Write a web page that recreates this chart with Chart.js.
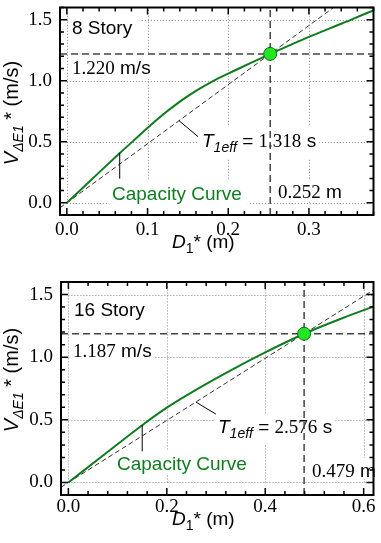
<!DOCTYPE html>
<html><head><meta charset="utf-8">
<script src="https://cdn.jsdelivr.net/npm/chart.js@4.4.1/dist/chart.umd.min.js"></script>
<style>
html,body{margin:0;padding:0;background:#fff;width:381px;height:543px;overflow:hidden}
.wrap{position:absolute;left:0;width:381px}
canvas{display:block}
</style></head><body>
<div class="wrap" style="top:0;height:270px"><canvas id="c1" width="381" height="270"></canvas></div>
<div class="wrap" style="top:270px;height:273px"><canvas id="c2" width="381" height="273"></canvas></div>
<script>
// ---------- DATA ----------
const story8Disp = [0, 0.03, 0.065, 0.09, 0.11, 0.14, 0.16, 0.18, 0.2, 0.21, 0.23, 0.252, 0.28, 0.3, 0.34, 0.38, 0.39];
const story8Vel  = [0, 0.187, 0.403, 0.553, 0.673, 0.829, 0.917, 0.993, 1.059, 1.090, 1.152, 1.220, 1.302, 1.359, 1.467, 1.575, 1.60];
const story8Perf = [0.252, 1.220];
const story8Period = "1.318";
const story8XTicks = [0, 0.1, 0.2, 0.3];
const story8YTicks = [0, 0.5, 1.0, 1.5];

const story16Disp = [0, 0.075, 0.15, 0.2, 0.26, 0.33, 0.4, 0.479, 0.55, 0.62, 0.64];
const story16Vel  = [0, 0.229, 0.457, 0.597, 0.741, 0.895, 1.038, 1.187, 1.301, 1.403, 1.43];
const story16Perf = [0.479, 1.187];
const story16Period = "2.576";
const story16XTicks = [0, 0.2, 0.4, 0.6];
const story16YTicks = [0, 0.5, 1.0, 1.5];

// ---------- STYLE ----------
const SANS = '"Liberation Sans", Arial, sans-serif';
const SERIF = '"Liberation Serif", "Times New Roman", serif';
const GREEN = '#0f7d1f';

function drawRich(ctx, x, y, segs) {
  let cx = x;
  segs.forEach(s => {
    ctx.font = s.f;
    ctx.fillStyle = s.c || '#000';
    ctx.fillText(s.t, cx, y + (s.dy || 0));
    cx += ctx.measureText(s.t).width;
  });
  return cx - x;
}
function richWidth(ctx, segs) {
  let w = 0;
  segs.forEach(s => { ctx.font = s.f; w += ctx.measureText(s.t).width; });
  return w;
}

function buildChart(id, spec) {
  const pts = spec.disp.map((x, i) => ({x, y: spec.vel[i]}));
  const slope = spec.perf[1] / spec.perf[0];
  const secant = [spec.xMin, spec.xMax * 1.2].map(x => ({x, y: x * slope}));
  const hline = [{x: spec.xMin, y: spec.perf[1]}, {x: spec.xMax, y: spec.perf[1]}];
  const vline = [{x: spec.perf[0], y: spec.yMin}, {x: spec.perf[0], y: spec.yMax}];

  const deco = {
    id: 'deco',
    beforeDatasetsDraw(chart) {
      const {ctx, chartArea: a, scales: {x, y}} = chart;
      ctx.save();
      ctx.strokeStyle = '#8a8a8a'; ctx.lineWidth = 1; ctx.setLineDash([1, 2]);
      const x0 = x.getPixelForValue(0), y0 = y.getPixelForValue(0);
      spec.xTicks.forEach(v => {
        const px = Math.round(x.getPixelForValue(v)) + 0.5;
        ctx.beginPath(); ctx.moveTo(px, y0); ctx.lineTo(px, a.top); ctx.stroke();
      });
      spec.yTicks.forEach(v => {
        const py = Math.round(y.getPixelForValue(v)) + 0.5;
        ctx.beginPath(); ctx.moveTo(x0, py); ctx.lineTo(a.right, py); ctx.stroke();
      });
      ctx.setLineDash([]);
      ctx.textBaseline = 'alphabetic';
      spec.labels.forEach(l => {
        const w = richWidth(ctx, l.segs);
        ctx.fillStyle = '#fff';
        ctx.fillRect(l.x - 3, l.y - l.up, w + 3 + (l.padR || 3), l.up + l.down);
        drawRich(ctx, l.x, l.y, l.segs);
      });
      ctx.restore();
    },
    afterDatasetsDraw(chart) {
      const {ctx, scales: {x, y}} = chart;
      ctx.save();
      ctx.strokeStyle = '#000'; ctx.lineWidth = 1;
      spec.leaders.forEach(L => {
        const px = x.getPixelForValue(L.ax), py = y.getPixelForValue(L.ay);
        ctx.beginPath(); ctx.moveTo(px, py); ctx.lineTo(px + L.dx, py + L.dy); ctx.stroke();
      });
      ctx.restore();
    },
    afterDraw(chart) {
      const {ctx, chartArea: a, scales: {x, y}} = chart;
      ctx.save();
      ctx.strokeStyle = '#000';
      ctx.lineWidth = 1.5;
      const near = (v, st) => Math.abs(v / st - Math.round(v / st)) < 1e-6;
      for (let k = Math.ceil(spec.xMin / spec.xMinor - 1e-9); k * spec.xMinor <= spec.xMax + 1e-9; k++) {
        const v = k * spec.xMinor;
        const L = near(v, spec.xMajor) ? 7 : 4;
        const px = x.getPixelForValue(v);
        ctx.beginPath(); ctx.moveTo(px, a.bottom); ctx.lineTo(px, a.bottom - L);
        ctx.moveTo(px, a.top); ctx.lineTo(px, a.top + L); ctx.stroke();
      }
      for (let k = Math.ceil(spec.yMin / spec.yMinor - 1e-9); k * spec.yMinor <= spec.yMax + 1e-9; k++) {
        const v = k * spec.yMinor;
        const L = near(v, spec.yMajor) ? 7 : 4;
        const py = y.getPixelForValue(v);
        ctx.beginPath(); ctx.moveTo(a.left, py); ctx.lineTo(a.left + L, py);
        ctx.moveTo(a.right, py); ctx.lineTo(a.right - L, py); ctx.stroke();
      }
      ctx.lineWidth = 2;
      ctx.strokeRect(a.left, a.top, a.right - a.left, a.bottom - a.top);
      // axis titles
      ctx.textBaseline = 'alphabetic';
      const xt = [
        {t: 'D', f: 'italic 19px ' + SANS},
        {t: '1', f: '14px ' + SANS, dy: 5},
        {t: '*', f: '19px ' + SANS},
        {t: ' (m)', f: '19px ' + SANS}
      ];
      drawRich(ctx, spec.xTitle[0], spec.xTitle[1], xt);
      const yt = [
        {t: 'V', f: 'italic 20px ' + SANS},
        {t: 'ΔE1', f: 'italic 14px ' + SANS, dy: 5},
        {t: ' *', f: '20px ' + SANS},
        {t: ' (m/s)', f: '20px ' + SANS}
      ];
      const w = richWidth(ctx, yt);
      ctx.translate(spec.yTitle[0], spec.yTitle[1]);
      ctx.rotate(-Math.PI / 2);
      drawRich(ctx, -w / 2, 0, yt);
      ctx.restore();
    }
  };

  return new Chart(document.getElementById(id), {
    type: 'scatter',
    data: {
      datasets: [
        {data: [{x: spec.perf[0], y: spec.perf[1]}], pointRadius: 6.5, pointBackgroundColor: '#22e622',
         pointBorderColor: '#0b6e12', pointBorderWidth: 1, showLine: false},
        {data: pts, showLine: true, borderColor: GREEN, borderWidth: 2, pointRadius: 0, cubicInterpolationMode: 'monotone'},
        {data: secant, showLine: true, borderColor: '#333', borderWidth: 1, borderDash: [5, 3], pointRadius: 0},
        {data: hline, showLine: true, borderColor: '#444', borderWidth: 1.5, borderDash: [7, 4], pointRadius: 0},
        {data: vline, showLine: true, borderColor: '#444', borderWidth: 1.5, borderDash: [7, 4], pointRadius: 0}
      ]
    },
    options: {
      responsive: false, animation: false, events: [],
      layout: {padding: {top: spec.padTop, right: 2, left: 0, bottom: 0}},
      plugins: {legend: {display: false}, tooltip: {enabled: false}},
      scales: {
        x: {
          type: 'linear', min: spec.xMin, max: spec.xMax,
          afterBuildTicks: s => { s.ticks = spec.xTicks.map(v => ({value: v})); },
          afterFit: s => { s.height = spec.xAxisH; s.paddingLeft = 0; s.paddingRight = 0; },
          ticks: {font: {family: SERIF, size: 19}, color: '#000', padding: spec.xTickPad, autoSkip: false, maxRotation: 0,
                  callback: v => Number(v).toFixed(1)},
          grid: {display: false, drawTicks: false}, border: {display: false}
        },
        y: {
          type: 'linear', min: spec.yMin, max: spec.yMax,
          afterBuildTicks: s => { s.ticks = spec.yTicks.map(v => ({value: v})); },
          afterFit: s => { s.width = spec.yAxisW; s.paddingTop = 0; s.paddingBottom = 0; },
          ticks: {font: {family: SERIF, size: 19}, color: '#000', padding: 8, autoSkip: false,
                  callback: v => Number(v).toFixed(1)},
          grid: {display: false, drawTicks: false}, border: {display: false}
        }
      }
    },
    plugins: [deco]
  });
}

const T_SEGS = (p) => [
  {t: 'T', f: 'italic 19px ' + SANS},
  {t: '1eff', f: 'italic 14px ' + SANS, dy: 5},
  {t: ' = ', f: '19px ' + SANS},
  {t: p, f: '19px ' + SERIF},
  {t: ' s', f: '19px ' + SANS}
];

buildChart('c1', {
  disp: story8Disp, vel: story8Vel, perf: story8Perf,
  xTicks: story8XTicks, yTicks: story8YTicks,
  xMin: -0.0085, xMax: 0.38, yMin: -0.1, yMax: 1.6,
  xMajor: 0.1, xMinor: 0.02, yMajor: 0.5, yMinor: 0.1,
  padTop: 2, xAxisH: 55, yAxisW: 60, xTickPad: 4,
  xTitle: [172, 248], yTitle: [18, 113],
  labels: [
    {x: 72, y: 34, up: 21, down: 5, padR: 8, segs: [{t: '8 Story', f: '19px ' + SANS}]},
    {x: 72, y: 74, up: 19, down: 5, segs: [{t: '1.220', f: '19px ' + SERIF}, {t: ' m/s', f: '19px ' + SANS}]},
    {x: 202, y: 147, up: 20, down: 11, segs: T_SEGS(story8Period)},
    {x: 112, y: 200, up: 20, down: 5, padR: 6, segs: [{t: 'Capacity Curve', f: '19px ' + SANS, c: GREEN}]},
    {x: 278, y: 198, up: 19, down: 2, segs: [{t: story8Perf[0].toFixed(3), f: '19px ' + SERIF}, {t: ' m', f: '19px ' + SANS}]}
  ],
  leaders: [
    {ax: 0.139, ay: 0.139 * story8Perf[1] / story8Perf[0], dx: 19, dy: 16},
    {ax: 0.0655, ay: 0.41, dx: 0, dy: 26}
  ]
});

buildChart('c2', {
  disp: story16Disp, vel: story16Vel, perf: story16Perf,
  xTicks: story16XTicks, yTicks: story16YTicks,
  xMin: -0.015, xMax: 0.62, yMin: -0.1, yMax: 1.6,
  xMajor: 0.2, xMinor: 0.04, yMajor: 0.5, yMinor: 0.1,
  padTop: 12, xAxisH: 48, yAxisW: 61, xTickPad: 1,
  xTitle: [172, 255], yTitle: [18, 110],
  labels: [
    {x: 74, y: 46, up: 17, down: 5, padR: 6, segs: [{t: '16 Story', f: '19px ' + SANS}]},
    {x: 73, y: 87, up: 18, down: 4, segs: [{t: '1.187', f: '19px ' + SERIF}, {t: ' m/s', f: '19px ' + SANS}]},
    {x: 218, y: 163, up: 20, down: 11, segs: T_SEGS(story16Period)},
    {x: 117, y: 200, up: 20, down: 5, segs: [{t: 'Capacity Curve', f: '19px ' + SANS, c: GREEN}]},
    {x: 312, y: 207, up: 19, down: 2, segs: [{t: story16Perf[0].toFixed(3), f: '19px ' + SERIF}, {t: ' m', f: '19px ' + SANS}]}
  ],
  leaders: [
    {ax: 0.259, ay: 0.259 * story16Perf[1] / story16Perf[0], dx: 20, dy: 12},
    {ax: 0.15, ay: 0.457, dx: 0, dy: 26}
  ]
});
</script>
</body></html>
